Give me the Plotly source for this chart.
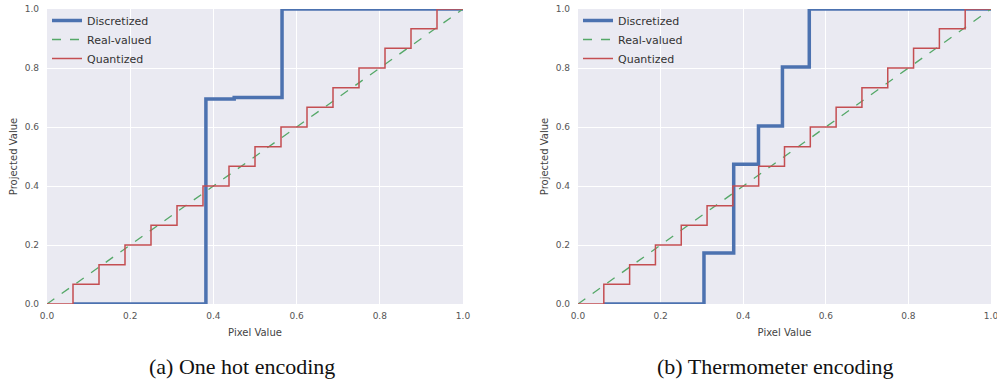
import plotly.graph_objects as go

# ---- data ----
# Real-valued identity line
real_x = [0.0, 1.0]
real_y = [0.0, 1.0]

# Quantized: 16 bins, levels k/15
quant_breaks = [k / 16 for k in range(16)] + [1.0]
quant_levels = [k / 15 for k in range(16)]

# One-hot discretized (left)
onehot_x = [0.0625, 0.382, 0.45, 0.565, 1.0]
onehot_y = [0.0, 0.695, 0.70, 1.0, 1.0]

# Thermometer discretized (right)
thermo_x = [0.0625, 0.305, 0.377, 0.437, 0.495, 0.56, 1.0]
thermo_y = [0.0, 0.173, 0.474, 0.603, 0.803, 1.0, 1.0]

ticks = [0.0, 0.2, 0.4, 0.6, 0.8, 1.0]
tick_text = ["0.0", "0.2", "0.4", "0.6", "0.8", "1.0"]
captions = ["(a) One hot encoding", "(b) Thermometer encoding"]

BLUE, GREEN, RED = "#4C72B0", "#55A868", "#C44E52"


def quant_xy():
    xs, ys = [], []
    for i, lv in enumerate(quant_levels):
        xs += [quant_breaks[i], quant_breaks[i + 1]]
        ys += [lv, lv]
    return xs, ys


def step_xy(xb, yv):
    xs, ys = [], []
    for i in range(len(xb) - 1):
        xs += [xb[i], xb[i + 1]]
        ys += [yv[i], yv[i]]
    return xs, ys


fig = go.Figure()
qx, qy = quant_xy()
for idx, (dx, dy) in enumerate([(onehot_x, onehot_y), (thermo_x, thermo_y)]):
    xa = "x" if idx == 0 else "x2"
    ya = "y" if idx == 0 else "y2"
    lg = "legend" if idx == 0 else "legend2"
    sx, sy = step_xy(dx, dy)
    fig.add_trace(go.Scatter(x=sx, y=sy, mode="lines", name="Discretized",
                             line=dict(color=BLUE, width=3.5), xaxis=xa, yaxis=ya, legend=lg))
    fig.add_trace(go.Scatter(x=real_x, y=real_y, mode="lines", name="Real-valued",
                             line=dict(color=GREEN, width=1.3, dash="dash"), xaxis=xa, yaxis=ya, legend=lg))
    fig.add_trace(go.Scatter(x=qx, y=qy, mode="lines", name="Quantized",
                             line=dict(color=RED, width=1.5), xaxis=xa, yaxis=ya, legend=lg))

W, H = 997, 381
ydom = [1 - 304 / H, 1 - 9 / H]
xdom1 = [47 / W, 463 / W]
xdom2 = [578 / W, 991 / W]

tickfont = dict(family="DejaVu Sans", size=9, color="#555555")
titlefont = dict(family="DejaVu Sans", size=10, color="#444444")
axis_common = dict(range=[0, 1], tickvals=ticks, ticktext=tick_text, showgrid=True,
                   gridcolor="white", gridwidth=1, zeroline=False, showline=False,
                   ticks="", tickfont=tickfont, title_font=titlefont, automargin=False,
                   ticklabeloverflow="allow")

xax = dict(title=dict(text="Pixel Value", standoff=8), ticklabelstandoff=5, **axis_common)
yax = dict(title=dict(text="Projected Value", standoff=5), ticklabelstandoff=7, **axis_common)

legend_common = dict(xanchor="left", yanchor="top", bgcolor="rgba(0,0,0,0)",
                     font=dict(family="DejaVu Sans", size=11, color="#333333"),
                     itemwidth=30, tracegroupgap=0)

cap_font = dict(family="Liberation Serif", size=22, color="#111111")
fig.update_layout(
    width=W, height=H, margin=dict(l=0, r=0, t=0, b=0, autoexpand=False),
    paper_bgcolor="white", plot_bgcolor="#EAEAF2",
    xaxis=dict(domain=xdom1, anchor="y", **xax),
    yaxis=dict(domain=ydom, anchor="x", **yax),
    xaxis2=dict(domain=xdom2, anchor="y2", **xax),
    yaxis2=dict(domain=ydom, anchor="x2", **yax),
    legend=dict(x=xdom1[0], y=1 - 6 / H, **legend_common),
    legend2=dict(x=xdom2[0], y=1 - 6 / H, **legend_common),
    annotations=[
        dict(text=captions[0], x=242 / W, y=1 - 366 / H, xref="paper", yref="paper",
             xanchor="center", yanchor="middle", showarrow=False, font=cap_font),
        dict(text=captions[1], x=775 / W, y=1 - 366 / H, xref="paper", yref="paper",
             xanchor="center", yanchor="middle", showarrow=False, font=cap_font),
    ],
)

fig.write_html("out.html")
